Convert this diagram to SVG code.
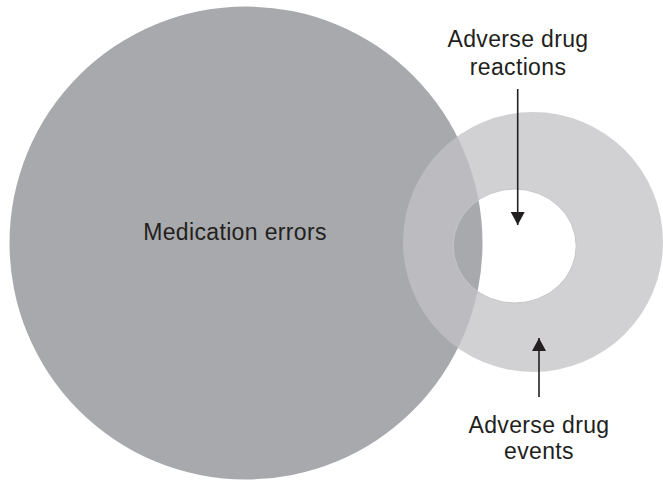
<svg xmlns="http://www.w3.org/2000/svg" width="663" height="480" viewBox="0 0 663 480">
  <defs>
    <style>
      .lbl { font-family: "Liberation Sans", Arial, sans-serif; font-size: 23px; letter-spacing: 0.35px; fill: #231f20; text-anchor: middle; }
      .conn { stroke: #231f20; stroke-width: 1.6; fill: none; }
    </style>
    <marker id="arr" markerWidth="14" markerHeight="14" refX="13" refY="7" orient="auto" markerUnits="userSpaceOnUse">
      <path d="M0,0 L13,7 L0,14 Z" fill="#231f20"/>
    </marker>
  </defs>
  <rect width="663" height="480" fill="#ffffff"/>
  <g id="medication-errors">
    <circle cx="246" cy="243" r="236.5" fill="#a8a9ac"/>
    <text class="lbl" x="235" y="239.5">Medication errors</text>
  </g>
  <g id="adverse-drug-events">
    <path d="M403,242 A130,130 0 1,0 663,242 A130,130 0 1,0 403,242 Z M453.2,246 A61.5,57 0 1,0 576.2,246 A61.5,57 0 1,0 453.2,246 Z" fill="#c2c3c6" fill-opacity="0.76" fill-rule="evenodd"/>
    <text class="lbl" x="539" y="433">Adverse drug</text>
    <text class="lbl" x="539" y="459">events</text>
  </g>
  <g id="adverse-drug-reactions">
    <ellipse cx="514.7" cy="246" rx="61.5" ry="57" fill="none" stroke="#c4c5c7" stroke-width="1"/>
    <text class="lbl" x="518" y="47">Adverse drug</text>
    <text class="lbl" x="518" y="75">reactions</text>
  </g>
  <g id="connectors">
    <line class="conn" x1="517.7" y1="89" x2="517.7" y2="225" marker-end="url(#arr)"/>
    <line class="conn" x1="539" y1="397" x2="539" y2="338" marker-end="url(#arr)"/>
  </g>
</svg>
